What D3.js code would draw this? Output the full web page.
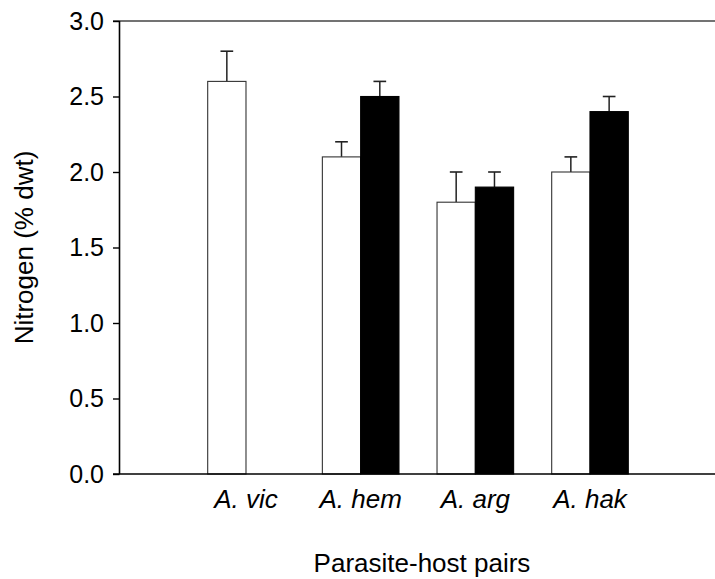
<!DOCTYPE html>
<html>
<head>
<meta charset="utf-8">
<script src="https://cdn.jsdelivr.net/npm/d3@7"></script>
<style>
  html, body { margin: 0; padding: 0; background: #fff; }
  svg { display: block; }
  text { font-family: "Liberation Sans", Arial, sans-serif; fill: #000; }
</style>
</head>
<body>
<svg id="chart" width="715" height="579"></svg>
<script>
// Nitrogen content of parasite (open) and host (filled) tissues
const categories = ["A. vic", "A. hem", "A. arg", "A. hak"];
const openValues = [2.6, 2.1, 1.8, 2.0];
const openErrors = [0.2, 0.1, 0.2, 0.1];
const filledValues = [null, 2.5, 1.9, 2.4];
const filledErrors = [null, 0.1, 0.1, 0.1];
const yTicks = [0, 0.5, 1.0, 1.5, 2.0, 2.5, 3.0];

const svg = d3.select("#chart");

const plot = { left: 119.5, right: 715, top: 21, bottom: 474 };

const y = d3.scaleLinear().domain([0, 3]).range([plot.bottom, plot.top]);

const x = d3.scaleBand()
  .domain(categories)
  .range([113, 715])
  .paddingInner(0.332)
  .paddingOuter(0.791)
  .align(0.522);

const sub = d3.scaleBand()
  .domain(["open", "filled"])
  .range([0, x.bandwidth()])
  .padding(0);

const bars = [];
categories.forEach((c, i) => {
  if (openValues[i] != null) bars.push({ cat: c, kind: "open", v: openValues[i], e: openErrors[i] });
  if (filledValues[i] != null) bars.push({ cat: c, kind: "filled", v: filledValues[i], e: filledErrors[i] });
});

// top frame line
svg.append("line")
  .attr("x1", 113).attr("x2", 715)
  .attr("y1", y(3)).attr("y2", y(3))
  .attr("stroke", "#444").attr("stroke-width", 1.4);

// error bars (upper only)
const capW = 12.7;
const eb = svg.append("g");
bars.forEach(b => {
  const cx = x(b.cat) + sub(b.kind) + sub.bandwidth() / 2;
  eb.append("line")
    .attr("x1", cx).attr("x2", cx)
    .attr("y1", y(b.v)).attr("y2", y(b.v + b.e))
    .attr("stroke", "#222").attr("stroke-width", 1.5);
  eb.append("line")
    .attr("x1", cx - capW / 2).attr("x2", cx + capW / 2)
    .attr("y1", y(b.v + b.e)).attr("y2", y(b.v + b.e))
    .attr("stroke", "#222").attr("stroke-width", 1.6);
});

// bars
svg.append("g").selectAll("rect")
  .data(bars)
  .join("rect")
  .attr("x", d => x(d.cat) + sub(d.kind))
  .attr("width", sub.bandwidth())
  .attr("y", d => y(d.v))
  .attr("height", d => y(0) - y(d.v))
  .attr("fill", d => d.kind === "open" ? "#fff" : "#000")
  .attr("stroke", d => d.kind === "open" ? "#333" : "#000")
  .attr("stroke-width", 1.1);

// y axis
const yAxis = svg.append("g")
  .attr("transform", `translate(${plot.left},0)`)
  .call(d3.axisLeft(y).tickValues(yTicks).tickFormat(d3.format(".1f")).tickSize(6.5).tickPadding(9));
yAxis.select(".domain").attr("stroke", "#000").attr("stroke-width", 1.6).attr("d", `M0,${plot.top}V${plot.bottom}`);
yAxis.selectAll(".tick line").attr("stroke", "#000").attr("stroke-width", 1.4);
yAxis.selectAll(".tick text")
  .attr("font-size", 25)
  .attr("font-family", "Liberation Sans, Arial, sans-serif");

// x axis baseline and category labels
svg.append("line")
  .attr("x1", 113).attr("x2", 715)
  .attr("y1", y(0)).attr("y2", y(0))
  .attr("stroke", "#000").attr("stroke-width", 1.6);

const xAxis = svg.append("g")
  .attr("transform", `translate(0,${plot.bottom})`)
  .call(d3.axisBottom(x).tickSize(0).tickPadding(0));
xAxis.select(".domain").remove();
xAxis.selectAll(".tick text")
  .attr("dy", null)
  .attr("y", 34)
  .attr("font-size", 26)
  .attr("font-style", "italic")
  .attr("font-family", "Liberation Sans, Arial, sans-serif");

// axis titles
svg.append("text")
  .attr("x", 422).attr("y", 572)
  .attr("text-anchor", "middle")
  .attr("font-size", 26)
  .text("Parasite-host pairs");

svg.append("text")
  .attr("transform", `translate(33,${(plot.top + plot.bottom) / 2}) rotate(-90)`)
  .attr("text-anchor", "middle")
  .attr("font-size", 26)
  .text("Nitrogen (% dwt)");
</script>
</body>
</html>
